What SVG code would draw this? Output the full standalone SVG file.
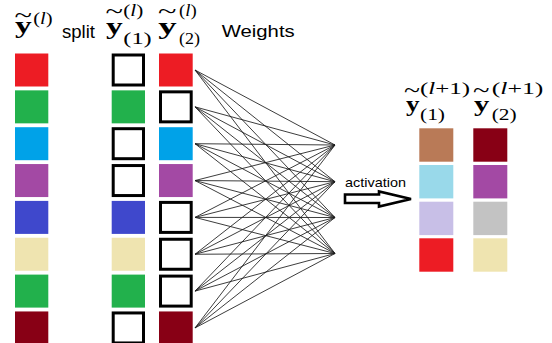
<svg xmlns="http://www.w3.org/2000/svg" width="552" height="343" viewBox="0 0 552 343">
<style>
.m{font-family:"Liberation Serif","DejaVu Serif",serif;fill:#000}
.y{font-weight:bold;font-size:24px}
.yo{font-weight:bold;font-size:21px}
.s{font-size:17.5px}
.t{font-size:22px}
.it{font-style:italic}
.lbl{font-family:"Liberation Sans","Noto Sans",sans-serif;fill:#000}
.h{fill:#fff;stroke:#000;stroke-width:3}
.c line{stroke:#1a1a1a;stroke-width:0.85}
</style>
<rect width="552" height="343" fill="#fff"/>

<!-- labels -->
<g id="label-y">
<text class="m t" x="14.5" y="21.5" textLength="17.5" lengthAdjust="spacingAndGlyphs">~</text>
<text class="m y" x="15" y="33.3" textLength="16.7" lengthAdjust="spacingAndGlyphs">y</text>
<text class="m s" x="33.3" y="23.5" textLength="19.4" lengthAdjust="spacingAndGlyphs">(<tspan class="it">l</tspan>)</text>
</g>
<g id="label-split"><text class="lbl" x="62" y="37.5" font-size="17.5" textLength="33" lengthAdjust="spacingAndGlyphs">split</text></g>
<g id="label-y1">
<text class="m t" x="105.5" y="17.8" textLength="17.5" lengthAdjust="spacingAndGlyphs">~</text>
<text class="m y" x="106" y="33.5" textLength="16.7" lengthAdjust="spacingAndGlyphs">y</text>
<text class="m s" x="123.3" y="15.5" textLength="20" lengthAdjust="spacingAndGlyphs">(<tspan class="it">l</tspan>)</text>
<text class="m s" x="123.3" y="43.5" textLength="28.4" lengthAdjust="spacingAndGlyphs">(1)</text>
</g>
<g id="label-y2">
<text class="m t" x="158" y="17.8" textLength="18.5" lengthAdjust="spacingAndGlyphs">~</text>
<text class="m y" x="158.3" y="33.5" textLength="18.4" lengthAdjust="spacingAndGlyphs">y</text>
<text class="m s" x="179" y="15.5" textLength="17.7" lengthAdjust="spacingAndGlyphs">(<tspan class="it">l</tspan>)</text>
<text class="m s" x="179" y="43.5" textLength="21" lengthAdjust="spacingAndGlyphs">(2)</text>
</g>
<g id="label-weights"><text class="lbl" x="221.7" y="36.7" font-size="17" textLength="73" lengthAdjust="spacingAndGlyphs">Weights</text></g>

<!-- left column y^(l) -->
<g id="col-y">
<rect x="15" y="53.5" width="33.3" height="33" fill="#ED1C24"/>
<rect x="15" y="90.35" width="33.3" height="33" fill="#22B14C"/>
<rect x="15" y="127.2" width="33.3" height="33" fill="#00A2E8"/>
<rect x="15" y="164.05" width="33.3" height="33" fill="#A349A4"/>
<rect x="15" y="200.9" width="33.3" height="33" fill="#3F48CC"/>
<rect x="15" y="237.75" width="33.3" height="33" fill="#EFE4B0"/>
<rect x="15" y="274.6" width="33.3" height="33" fill="#22B14C"/>
<rect x="15" y="311.45" width="33.3" height="33" fill="#880015"/>
</g>

<!-- middle column y_(1) -->
<g id="col-y1">
<rect class="h" x="113.2" y="55" width="30.3" height="30"/>
<rect x="111.7" y="90.35" width="33.3" height="33" fill="#22B14C"/>
<rect class="h" x="113.2" y="128.7" width="30.3" height="30"/>
<rect class="h" x="113.2" y="165.55" width="30.3" height="30"/>
<rect x="111.7" y="200.9" width="33.3" height="33" fill="#3F48CC"/>
<rect x="111.7" y="237.75" width="33.3" height="33" fill="#EFE4B0"/>
<rect x="111.7" y="274.6" width="33.3" height="33" fill="#22B14C"/>
<rect class="h" x="113.2" y="312.95" width="30.3" height="30"/>
</g>

<!-- third column y_(2) -->
<g id="col-y2">
<rect x="159" y="53.5" width="33.7" height="33" fill="#ED1C24"/>
<rect class="h" x="160.5" y="91.85" width="30.7" height="30"/>
<rect x="159" y="127.2" width="33.7" height="33" fill="#00A2E8"/>
<rect x="159" y="164.05" width="33.7" height="33" fill="#A349A4"/>
<rect class="h" x="160.5" y="202.4" width="30.7" height="30"/>
<rect class="h" x="160.5" y="239.25" width="30.7" height="30"/>
<rect class="h" x="160.5" y="276.1" width="30.7" height="30"/>
<rect x="159" y="311.45" width="33.7" height="33" fill="#880015"/>
</g>

<!-- connectors -->
<g id="connectors" class="c">
<line x1="195" y1="70" x2="335" y2="145"/><line x1="195" y1="70" x2="335" y2="181.7"/><line x1="195" y1="70" x2="335" y2="217.5"/><line x1="195" y1="70" x2="335" y2="253.5"/>
<line x1="195" y1="106.85" x2="335" y2="145"/><line x1="195" y1="106.85" x2="335" y2="181.7"/><line x1="195" y1="106.85" x2="335" y2="217.5"/><line x1="195" y1="106.85" x2="335" y2="253.5"/>
<line x1="195" y1="143.7" x2="335" y2="145"/><line x1="195" y1="143.7" x2="335" y2="181.7"/><line x1="195" y1="143.7" x2="335" y2="217.5"/><line x1="195" y1="143.7" x2="335" y2="253.5"/>
<line x1="195" y1="180.55" x2="335" y2="145"/><line x1="195" y1="180.55" x2="335" y2="181.7"/><line x1="195" y1="180.55" x2="335" y2="217.5"/><line x1="195" y1="180.55" x2="335" y2="253.5"/>
<line x1="195" y1="217.4" x2="335" y2="145"/><line x1="195" y1="217.4" x2="335" y2="181.7"/><line x1="195" y1="217.4" x2="335" y2="217.5"/><line x1="195" y1="217.4" x2="335" y2="253.5"/>
<line x1="195" y1="254.25" x2="335" y2="145"/><line x1="195" y1="254.25" x2="335" y2="181.7"/><line x1="195" y1="254.25" x2="335" y2="217.5"/><line x1="195" y1="254.25" x2="335" y2="253.5"/>
<line x1="195" y1="291.1" x2="335" y2="145"/><line x1="195" y1="291.1" x2="335" y2="181.7"/><line x1="195" y1="291.1" x2="335" y2="217.5"/><line x1="195" y1="291.1" x2="335" y2="253.5"/>
<line x1="195" y1="327.95" x2="335" y2="145"/><line x1="195" y1="327.95" x2="335" y2="181.7"/><line x1="195" y1="327.95" x2="335" y2="217.5"/><line x1="195" y1="327.95" x2="335" y2="253.5"/>
</g>

<!-- activation arrow -->
<g id="activation">
<text class="lbl" x="345" y="187" font-size="13.5" textLength="61" lengthAdjust="spacingAndGlyphs">activation</text>
<polygon points="345,194.5 379,194.5 379,191.5 411,199 379,206.5 379,203 345,203" fill="#fff" stroke="#000" stroke-width="2.6" stroke-linejoin="miter"/>
</g>

<!-- output labels -->
<g id="label-out1">
<text class="m t" x="404" y="97.3" textLength="16" lengthAdjust="spacingAndGlyphs">~</text>
<text class="m yo" x="406" y="110.5" textLength="13.5" lengthAdjust="spacingAndGlyphs">y</text>
<text class="m s" x="420" y="93.7" textLength="50" lengthAdjust="spacingAndGlyphs">(<tspan class="it">l</tspan>+1)</text>
<text class="m s" x="420" y="120.3" textLength="25" lengthAdjust="spacingAndGlyphs">(1)</text>
</g>
<g id="label-out2">
<text class="m t" x="473" y="97.3" textLength="16.5" lengthAdjust="spacingAndGlyphs">~</text>
<text class="m yo" x="474" y="110.5" textLength="15.3" lengthAdjust="spacingAndGlyphs">y</text>
<text class="m s" x="491.7" y="93.7" textLength="51.6" lengthAdjust="spacingAndGlyphs">(<tspan class="it">l</tspan>+1)</text>
<text class="m s" x="491.7" y="120.3" textLength="25" lengthAdjust="spacingAndGlyphs">(2)</text>
</g>

<!-- output columns -->
<g id="col-out1">
<rect x="419.3" y="128.3" width="34" height="33.4" fill="#B97A57"/>
<rect x="419.3" y="165" width="34" height="33.4" fill="#99D9EA"/>
<rect x="419.3" y="201.7" width="34" height="33.4" fill="#C8BFE7"/>
<rect x="419.3" y="238.3" width="34" height="33.4" fill="#ED1C24"/>
</g>
<g id="col-out2">
<rect x="473.3" y="128.3" width="34" height="33.4" fill="#880015"/>
<rect x="473.3" y="165" width="34" height="33.4" fill="#A349A4"/>
<rect x="473.3" y="201.7" width="34" height="33.4" fill="#C3C3C3"/>
<rect x="473.3" y="238.3" width="34" height="33.4" fill="#EFE4B0"/>
</g>
</svg>
